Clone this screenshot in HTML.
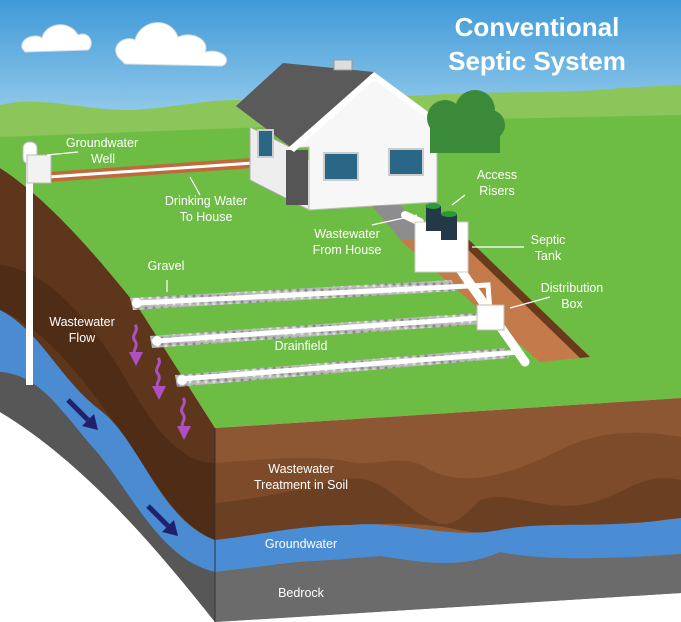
<!DOCTYPE html>
<html><head><meta charset="utf-8"><style>
html,body{margin:0;padding:0;background:#fff;}
svg{display:block}
text{font-family:"Liberation Sans",sans-serif;fill:#fff;font-size:12.5px;text-anchor:middle}
</style></head><body>
<svg width="681" height="622" viewBox="0 0 681 622" xmlns="http://www.w3.org/2000/svg">
<defs>
<linearGradient id="sky" x1="0" y1="0" x2="0" y2="1">
<stop offset="0" stop-color="#3f9ad8"/><stop offset="1" stop-color="#a6d4ef"/></linearGradient>
<pattern id="grav" width="8" height="6" patternUnits="userSpaceOnUse"><rect width="8" height="6" fill="#b9b9b9"/><circle cx="2" cy="2" r="1.5" fill="#888"/><circle cx="6" cy="4" r="1.5" fill="#e0e0e0"/></pattern>
</defs>
<rect width="681" height="622" fill="#fff"/>
<rect width="681" height="140" fill="url(#sky)"/>
<path d="M0,105 C40,95 80,110 130,110 C180,108 220,95 260,102 L430,95 C500,90 560,95 620,88 L681,85 L681,150 L0,150Z" fill="#8cc65a"/>
<g fill="#fff" stroke="#d8dde3" stroke-width="1"><path d="M22,48 C20,38 35,33 42,38 C46,22 70,20 78,35 C90,30 95,45 88,50 L25,52Z"/>
<path d="M118,57 C110,45 125,35 135,40 C140,20 170,15 178,37 C195,30 210,42 205,52 C225,48 232,62 222,66 L125,64Z"/></g>
<!-- main grass -->
<path d="M0,137 L240,128 L440,120 L681,115 L681,398 L215,428 L140,310 C100,260 50,200 0,168Z" fill="#6dbd44"/>
<!-- left face -->
<path d="M0,168 C50,200 100,260 140,310 L215,428 L215,622 C150,540 80,460 0,412Z" fill="#5e361b"/>
<path d="M0,265 C40,270 70,300 100,340 C130,380 150,430 180,450 C195,462 205,462 215,463 L215,540 C170,520 150,470 120,430 C90,390 50,330 0,310Z" fill="#4e2c15"/>
<path d="M0,310 C40,330 60,380 100,410 C140,440 160,520 215,540 L215,572 C160,560 130,490 95,450 C60,410 40,375 0,372Z" fill="#4a8bd2"/>
<path d="M0,372 C40,375 60,410 95,450 C130,490 160,560 215,572 L215,622 C150,540 80,460 0,412Z" fill="#575757"/>
<!-- front face -->
<path d="M215,428 L681,398 L681,593 L215,622Z" fill="#8e5733"/>
<path d="M215,463 C260,460 300,455 340,460 C380,470 400,450 430,470 C470,490 520,470 560,450 C600,430 640,430 681,437 L681,480 C640,470 620,500 580,505 C540,510 510,490 480,500 C460,520 450,530 430,520 C400,505 380,470 340,480 C300,490 250,500 215,503Z" fill="#7d4a2a"/>
<path d="M215,503 C250,500 300,490 340,480 C380,470 400,505 430,520 C450,530 460,520 480,500 C510,490 540,510 580,505 C620,500 640,470 681,480 L681,518 C640,520 600,540 560,530 C520,525 500,540 450,528 C400,520 350,525 300,530 C260,535 240,540 215,540Z" fill="#6b3f22"/>
<path d="M215,540 C260,535 300,525 350,525 C400,520 450,540 500,530 C550,520 600,530 681,518 L681,554 C620,560 580,570 540,560 C500,550 460,570 420,562 C380,556 330,560 300,562 C260,566 240,570 215,572Z" fill="#4b8dd5"/>
<path d="M215,572 C260,566 330,560 380,556 C420,562 460,570 500,552 C540,560 600,560 681,554 L681,593 L215,622Z" fill="#6b6b6b"/>
<path d="M215,428 L215,622" stroke="#333" stroke-width="1"/>
<!-- drinking water trench -->
<path d="M48,172 L252,158 L254,168 L48,182Z" fill="#c0693c"/>
<path d="M48,177 L253,163" stroke="#fff" stroke-width="3"/>
<!-- well -->
<rect x="26" y="160" width="7" height="225" fill="#fff"/>
<rect x="23" y="142" width="14" height="22" rx="6" fill="#fff" stroke="#bbb"/>
<rect x="27" y="155" width="24" height="28" fill="#f2f2f2" stroke="#bbb"/>
<!-- house -->
<path d="M250,127 L290,147 L309,160 L309,210 L250,180Z" fill="#eeeeee" stroke="#aaa"/>
<rect x="286" y="150" width="22" height="55" fill="#555"/>
<path d="M292,148 L374,74 L456,132 L437,132 L437,202 L309,210 L309,147Z" fill="#f7f7f7" stroke="#bbb"/>
<path d="M236,106 L283,63 L374,72 L292,148 L285,143Z" fill="#5a5a5a"/>
<path d="M288,148 L374,72 L458,134 L452,136 L374,80 L294,152Z" fill="#fff"/>
<rect x="334" y="60" width="18" height="10" fill="#ddd" stroke="#999"/>
<rect x="324" y="153" width="34" height="27" fill="#2a6685" stroke="#ccc" stroke-width="2"/>
<rect x="389" y="149" width="34" height="26" fill="#2a6685" stroke="#ccc" stroke-width="2"/>
<rect x="258" y="130" width="15" height="27" fill="#2a6685" stroke="#ccc" stroke-width="2"/>
<g fill="#3b8a3a"><circle cx="445" cy="118" r="18"/><circle cx="475" cy="110" r="20"/><circle cx="490" cy="125" r="15"/><rect x="430" y="118" width="70" height="35"/></g>
<path d="M372,206 L400,205 L430,240 L405,245Z" fill="#8d8d8d"/>
<path d="M400,240 L455,237 L580,358 L540,362Z" fill="#c57a4b"/>
<path d="M455,237 L465,236 L590,357 L580,358Z" fill="#6b3a1c"/>
<path d="M450,255 L490,312 L525,362" stroke="#fff" stroke-width="9" fill="none" stroke-linecap="round"/>
<path d="M405,215 L420,222" stroke="#fff" stroke-width="8" stroke-linecap="round"/>
<rect x="415" y="222" width="53" height="50" fill="#fff" stroke="#ccc"/>
<rect x="426" y="206" width="15" height="25" fill="#253848"/><ellipse cx="433" cy="206" rx="7.5" ry="3" fill="#2c9a3a"/>
<rect x="441" y="214" width="16" height="26" fill="#253848"/><ellipse cx="449" cy="214" rx="8" ry="3" fill="#2c9a3a"/>
<path d="M145,290 L440,276 L455,300 L160,320Z" fill="#6dbd44"/>
<path d="M160,330 L470,313 L485,340 L180,364Z" fill="#6dbd44"/>
<path d="M130,298 L452,280 L455,291 L133,310Z" fill="url(#grav)"/>
<path d="M150,336 L478,313 L482,324 L152,348Z" fill="url(#grav)"/>
<path d="M175,375 L505,348 L509,358 L177,387Z" fill="url(#grav)"/>
<path d="M137,303 L488,285 L490,312 M157,341 L478,318 M182,379 L520,352" stroke="#fff" stroke-width="5" fill="none"/>
<circle cx="137" cy="303" r="5" fill="#fff"/><circle cx="157" cy="341" r="5" fill="#fff"/><circle cx="182" cy="380" r="5" fill="#fff"/>
<rect x="477" y="305" width="27" height="25" fill="#fff" stroke="#bbb"/>
<g stroke="#b04fc0" stroke-width="3" fill="none"><path d="M135,325 c5,6 -5,10 0,16 c4,6 -3,8 0,14"/><path d="M158,358 c5,6 -5,10 0,16 c4,6 -3,8 0,14"/><path d="M183,398 c5,6 -5,10 0,16 c4,6 -3,8 0,14"/></g>
<g fill="#b04fc0"><path d="M129,352 L143,352 L136,366Z"/><path d="M152,386 L166,386 L159,400Z"/><path d="M177,426 L191,426 L184,440Z"/></g>
<g stroke="#22206a" stroke-width="5"><path d="M68,400 L88,420"/><path d="M148,506 L168,526"/></g>
<g fill="#22206a"><path d="M82,426 L98,430 L94,414Z"/><path d="M162,532 L178,536 L174,520Z"/></g>
<g stroke="#fff" stroke-width="1.2"><path d="M47,155 L78,152"/><path d="M190,177 L200,195"/><path d="M372,225 L417,215"/><path d="M452,205 L465,195"/><path d="M472,247 L524,247"/><path d="M167,280 L167,292"/><path d="M510,308 L550,297"/></g>
<text x="102" y="147">Groundwater</text><text x="103" y="163">Well</text>
<text x="206" y="205">Drinking Water</text><text x="206" y="221">To House</text>
<text x="347" y="238">Wastewater</text><text x="347" y="254">From House</text>
<text x="497" y="179">Access</text><text x="497" y="195">Risers</text>
<text x="548" y="244">Septic</text><text x="548" y="260">Tank</text>
<text x="572" y="292">Distribution</text><text x="572" y="308">Box</text>
<text x="166" y="270">Gravel</text>
<text x="82" y="326">Wastewater</text><text x="82" y="342">Flow</text>
<text x="301" y="350">Drainfield</text>
<text x="301" y="473">Wastewater</text><text x="301" y="489">Treatment in Soil</text>
<text x="301" y="548">Groundwater</text>
<text x="301" y="597">Bedrock</text>
<text x="537" y="36" style="font-size:26px;font-weight:bold">Conventional</text>
<text x="537" y="70" style="font-size:26px;font-weight:bold">Septic System</text>
</svg>
</body></html>
